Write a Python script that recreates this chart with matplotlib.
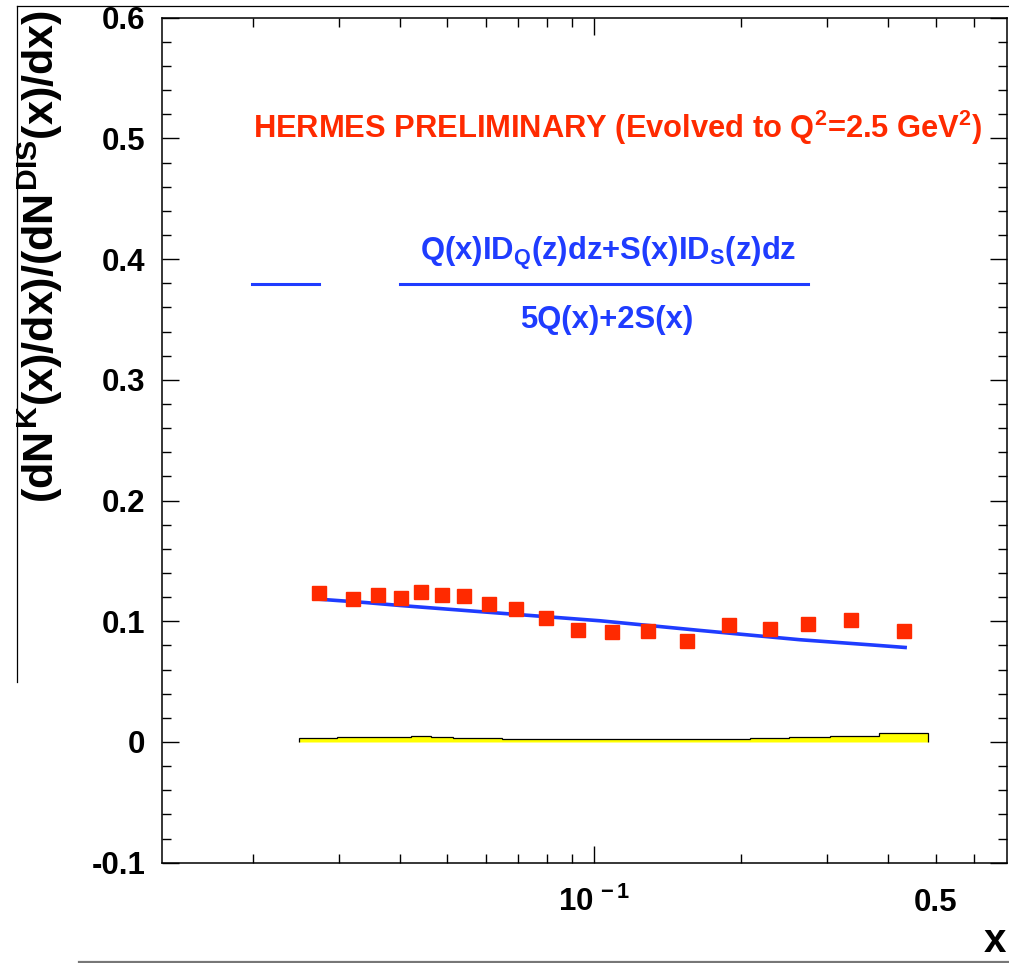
import matplotlib
matplotlib.use("Agg")
import matplotlib.pyplot as plt
from matplotlib.lines import Line2D
import numpy as np

plt.rcParams['font.family'] = ['Liberation Sans', 'DejaVu Sans']
plt.rcParams['font.weight'] = 'bold'
plt.rcParams['mathtext.fontset'] = 'custom'
plt.rcParams['mathtext.rm'] = 'Liberation Sans:bold'
plt.rcParams['mathtext.it'] = 'Liberation Sans:bold'
plt.rcParams['mathtext.bf'] = 'Liberation Sans:bold'
plt.rcParams['mathtext.sf'] = 'Liberation Sans:bold'

# ---- data ----
x_points = [0.02736, 0.03216, 0.03618, 0.04026, 0.04424, 0.04878, 0.05426,
            0.06097, 0.06913, 0.07966, 0.09261, 0.1090, 0.1288, 0.1548,
            0.1890, 0.2296, 0.2742, 0.3354, 0.4311]
y_points = [0.1234, 0.1181, 0.1217, 0.1192, 0.1239, 0.1217, 0.1209,
            0.1143, 0.1101, 0.1023, 0.0930, 0.0907, 0.0916, 0.0838,
            0.0971, 0.0935, 0.0977, 0.1007, 0.0921]

x_curve = [0.0271, 0.0341, 0.0400, 0.0642, 0.1029, 0.1648, 0.2640, 0.3726, 0.4331]
y_curve = [0.1184, 0.1155, 0.1131, 0.1067, 0.1004, 0.0924, 0.0847, 0.0803, 0.0783]

band_edges = [0.02493, 0.02982, 0.03414, 0.04220, 0.04644, 0.05137, 0.06491,
              0.08589, 0.2089, 0.2510, 0.3042, 0.3837, 0.4822]
band_heights = [0.0033, 0.0040, 0.0042, 0.0052, 0.0040, 0.0033, 0.0024,
                0.0022, 0.0030, 0.0042, 0.0048, 0.0075]

xtick_major = [0.1, 0.5]
xtick_labels = [r'10$^{\,-1}$', '0.5']
xtick_minor = [0.02, 0.03, 0.04, 0.05, 0.06, 0.07, 0.08, 0.09,
               0.2, 0.3, 0.4, 0.6]
ytick_major = [-0.1, 0.0, 0.1, 0.2, 0.3, 0.4, 0.5, 0.6]
ytick_labels = ['-0.1', '0', '0.1', '0.2', '0.3', '0.4', '0.5', '0.6']
ytick_minor = list(np.round(np.arange(-0.1, 0.6001, 0.02), 2))

title_text = r'HERMES PRELIMINARY (Evolved to Q$^{2}$=2.5 GeV$^{2}$)'
num_text = r'Q(x)ID$_{Q}$(z)dz+S(x)ID$_{S}$(z)dz'
den_text = '5Q(x)+2S(x)'
ylabel_text = r'$(dN^{K}(x)/dx)/(dN^{DIS}(x)/dx)$'
xlabel_text = 'x'

RED = '#ff2a00'
BLUE = '#1f3cff'

W, H = 1009, 963
fig = plt.figure(figsize=(W / 100, H / 100), dpi=100)
ax = fig.add_axes([162 / W, 1 - 862.7 / H, 845 / W, 845 / H])

ax.set_xscale('log')
ax.set_xlim(0.01305, 0.700)
ax.set_ylim(-0.1, 0.6)

# yellow systematic band
ax.stairs(band_heights, band_edges, baseline=0, fill=True,
          facecolor='#ffff00', edgecolor='black', linewidth=0.9, zorder=2)

# model curve
ax.plot(x_curve, y_curve, color=BLUE, lw=2.6, zorder=3)

# data points
ax.plot(x_points, y_points, 's', color=RED, ms=9.4, mec=RED, zorder=4)

# ticks
ax.set_xticks(xtick_major, xtick_labels)
ax.set_xticks(xtick_minor, minor=True)
ax.xaxis.set_minor_formatter(matplotlib.ticker.NullFormatter())
ax.set_yticks(ytick_major, ytick_labels)
ax.set_yticks(ytick_minor, minor=True)

ax.tick_params(which='both', direction='in', top=True, right=True,
               width=1.0, labelsize=22.5)
ax.tick_params(which='major', length=12.5)
ax.tick_params(which='minor', length=6.2)
ax.tick_params(axis='y', which='major', pad=12)
ax.tick_params(axis='x', which='major', pad=35)
for lab in ax.get_xticklabels():
    lab.set_verticalalignment('baseline')
    lab.set_fontweight('bold')
for lab in ax.get_yticklabels():
    lab.set_fontweight('bold')
# the 0.5 tick is drawn short like a minor tick
t05 = ax.xaxis.get_major_ticks()[1]
t05.tick1line.set_markersize(6.2)
t05.tick2line.set_markersize(6.2)

for s in ax.spines.values():
    s.set_linewidth(1.1)

# texts
fig.text(253 / W, 1 - 138.3 / H, title_text, color=RED, fontsize=22.2,
         fontweight='bold', ha='left', va='baseline')
fig.text(608 / W, 1 - 260 / H, num_text, color=BLUE, fontsize=22.3,
         fontweight='bold', ha='center', va='baseline')
fig.text(607 / W, 1 - 328 / H, den_text, color=BLUE, fontsize=22.3,
         fontweight='bold', ha='center', va='baseline')
fig.add_artist(Line2D([252 / W, 319 / W], [1 - 284 / H, 1 - 284 / H],
                      transform=fig.transFigure, color=BLUE, lw=2.2))
fig.add_artist(Line2D([400 / W, 808 / W], [1 - 284 / H, 1 - 284 / H],
                      transform=fig.transFigure, color=BLUE, lw=2.2))

fig.text(16 / W, 1 - 10 / H, ylabel_text, rotation=90, fontsize=31,
         ha='left', va='top')
fig.text(1006 / W, 1 - 960 / H, xlabel_text, fontsize=29, fontweight='bold',
         ha='right', va='bottom')

# outer frame lines
fig.add_artist(Line2D([17 / W, 17 / W], [1 - 6 / H, 1 - 682 / H],
                      transform=fig.transFigure, color='black', lw=0.9))
fig.add_artist(Line2D([17 / W, 1.0], [1 - 6 / H, 1 - 6 / H],
                      transform=fig.transFigure, color='black', lw=0.9))
fig.add_artist(Line2D([79 / W, 1.0], [1 - 962 / H, 1 - 962 / H],
                      transform=fig.transFigure, color='#777777', lw=1.6))

fig.savefig('out.png', dpi=100)
